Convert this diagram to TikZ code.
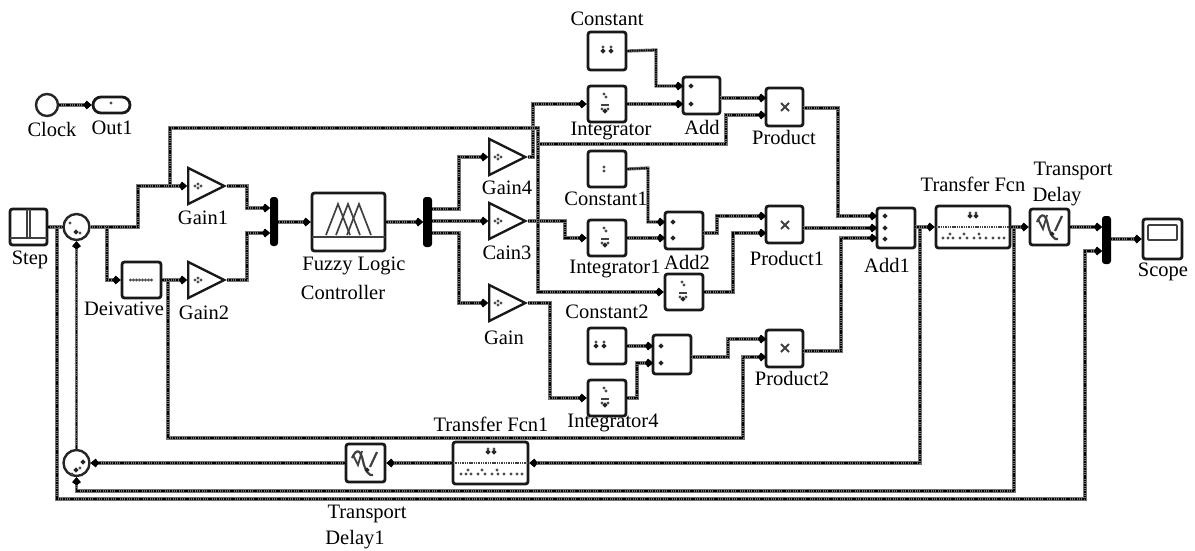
\documentclass[tikz,border=0pt]{standalone}
\usepackage{fontspec}
\setmainfont{Liberation Serif}
\usetikzlibrary{arrows.meta,fit,shapes.geometric}
\tikzset{
  wire/.style={draw=black,line width=1.7pt,dash pattern=on 1.4pt off 0.9pt,line join=miter,
    preaction={draw=black!55,line width=3.3pt,solid}},
  flow/.style={wire,-{Kite[length=8pt,width=8.5pt,inset=3pt,black]}},
  blk/.style={draw=black!90,line width=2.8pt,rounded corners=2.5pt,inner sep=0pt,fill=white},
  gainb/.style={draw=black!90,line width=2.4pt,isosceles triangle,isosceles triangle apex angle=52,
    isosceles triangle stretches,minimum width=36pt,minimum height=36pt,inner sep=0pt,anchor=west,fill=white},
  sumb/.style={draw=black!85,line width=2.4pt,circle,minimum size=26pt,inner sep=0pt,fill=white},
  muxb/.style={fill=black,rounded corners=3pt,inner sep=0pt},
  lbl/.style={font=\fontsize{20.5}{24}\selectfont,inner sep=0pt},
  ico/.style={draw=black!75,line width=1.3pt},
}
\newcommand\blk[5]{\node[blk,fit={(#2,#3) (#4,#5)}] (#1) {};}
\newcommand\dm[2]{\fill[black!85] (#1-2.6,#2)--(#1,#2-2.6)--(#1+2.6,#2)--(#1,#2+2.6)--cycle;}
\newcommand\sm[2]{\fill[black!70] (#1-1.6,#2)--(#1,#2-1.6)--(#1+1.6,#2)--(#1,#2+1.6)--cycle;}
\newcommand\intico[2]{\sm{#1-1}{#2-10}\sm{#1+1}{#2-7}\draw[ico] (#1-4,#2+1)--(#1+4,#2+1);\dm{#1}{#2+7}\sm{#1-3}{#2+5}\sm{#1+3}{#2+5}}
\newcommand\conico[2]{\dm{#1-4}{#2+1}\dm{#1+4}{#2+1}\sm{#1-4}{#2-3}\sm{#1+4}{#2-3}}
\newcommand\prodico[2]{\draw[ico,line width=1.8pt] (#1-4,#2-4)--(#1+4,#2+4) (#1-4,#2+4)--(#1+4,#2-4);}
\newcommand\tfico[4]{\draw[ico,line width=2.2pt,dash pattern=on 1.4pt off 0.9pt] (#1,#3)--(#2,#3);
  \dm{#4-3}{#3-11}\dm{#4+3}{#3-11}\sm{#4-3}{#3-14}\sm{#4+3}{#3-14}
  \foreach \k in {-30,-25,-20,-13,-6,1,7,13,20,26,31}{\sm{#4+\k}{#3+11}}
  \foreach \k in {-23,-9,6}{\sm{#4+\k}{#3+7}}}
\newcommand\delico[2]{\draw[ico,line width=2.2pt] (#1-13,#2-5) .. controls (#1-8,#2-16) and (#1-4,#2-12) .. (#1-2,#2-2) .. controls (#1,#2+8) and (#1+5,#2+14) .. (#1+8,#2+12);
  \draw[ico,line width=2.2pt] (#1+5,#2+4)--(#1+12,#2-11);\draw[ico,line width=1.8pt] (#1-12,#2-8)--(#1-7,#2+2)--(#1-3,#2-12);\dm{#1+2}{#2+7}}
\newcommand\port[3]{\coordinate (#1) at (#2,#3);}
\begin{document}
\begin{tikzpicture}[x=1pt,y=-1pt]
\useasboundingbox (0,0) rectangle (1195,550);
% ---- blocks
\node[sumb,minimum size=22pt] (clock) at (47,105) {};
\node[blk,rounded corners=8pt,fit={(93,97) (130,113)}] (out1) {};
\sm{111}{103}
\blk{step}{10}{209}{47}{245}
\draw[ico,line width=2pt] (27,209)--(27,238) (30,209)--(30,238) (10,238)--(47,238);
\node[sumb] (sum1) at (76.5,227) {};
\sm{70}{223}\dm{76}{232}\sm{80}{233}
\node[sumb] (sum2) at (76.5,463) {};
\dm{83}{462}\dm{76}{470}\sm{72}{474}\sm{80}{468}
\blk{deriv}{122}{262}{161}{298}
\foreach \k in {-11,-8,-5,-2,1,4,7,10}{\sm{141.5+\k}{280}}
\node[gainb] (g1) at (187,186) {};
\node[gainb] (g2) at (187,280) {};
\node[gainb] (g4) at (488,157) {};
\node[gainb] (g3) at (488,221) {};
\node[gainb] (g0) at (488,303) {};
\foreach \a/\b in {198/186,198/280,498/157,498/221,498/303}{\sm{\a-3}{\b}\sm{\a}{\b-2}\sm{\a}{\b+2}\sm{\a+3}{\b}}
\node[muxb,fit={(270,197) (278,246)}] (mx1) {};
\node[muxb,fit={(423,197) (432,247)}] (mx2) {};
\node[muxb,fit={(1102,216) (1111,264)}] (mx3) {};
\blk{flc}{312}{193}{385}{251}
\draw[ico] (312,237)--(385,237);
\foreach \p in {338,348,359}{\draw[ico,line width=1.7pt] (\p-12,235)--(\p,204)--(\p+12,235);}
\blk{con}{588}{32}{626}{70} \conico{607}{50}
\blk{int}{588}{86}{626}{122} \intico{605}{104}
\blk{add}{683}{77}{720}{114} \dm{691}{86}\dm{691}{104}
\blk{prd}{766}{88}{803}{126} \prodico{785}{107}
\blk{con1}{588}{151}{626}{187} \sm{604}{167}\sm{604}{171}
\blk{int1}{588}{220}{626}{256} \intico{605}{238}
\blk{add2}{665}{212}{703}{249} \dm{673}{222}\dm{673}{238}
\blk{prd1}{766}{206}{803}{243} \prodico{785}{225}
\blk{int3}{665}{274}{703}{310} \intico{683}{292}
\blk{con2}{588}{328}{626}{364} \conico{600}{345}
\blk{int4}{588}{380}{626}{416} \intico{605}{398}
\blk{add3}{653}{335}{691}{374} \dm{661}{346}\dm{661}{363}
\blk{prd2}{766}{330}{803}{367} \prodico{785}{348}
\blk{add1}{877}{208}{915}{248} \dm{885}{216}\dm{885}{228}\dm{885}{239}
\blk{tf}{936}{206}{1010}{248} \tfico{936}{1010}{227}{973}
\blk{tf1}{453}{442}{528}{484} \tfico{453}{528}{463}{491}
\blk{td}{1030}{209}{1069}{245} \delico{1050}{227}
\blk{td1}{346}{444}{385}{482} \delico{365}{463}
\blk{scope}{1143}{219}{1182}{259}
\draw[ico,line width=1.8pt,rounded corners=1pt] (1148,225) rectangle (1177,240);
% ---- named ports and branch points
\port{fbA}{57}{227}\port{j1}{107}{227}\port{j2}{170}{186}\port{j3}{168}{280}
\port{j5}{538}{144}\port{j6}{920}{227}\port{j7}{1014}{227}
\port{m1a}{270}{208}\port{m1b}{270}{233}\port{m1o}{278}{222}
\port{m2i}{423}{222}\port{m2a}{432}{209}\port{m2b}{432}{221}\port{m2c}{432}{233}
\port{m3a}{1102}{227}\port{m3b}{1102}{251}\port{m3o}{1111}{239}
\port{adda}{683}{86}\port{addb}{683}{104}\port{addo}{720}{98}
\port{prda}{766}{98}\port{prdb}{766}{115}\port{prdo}{803}{108}
\port{add2a}{665}{222}\port{add2b}{665}{238}\port{add2o}{703}{233}
\port{prd1a}{766}{216}\port{prd1b}{766}{233}\port{prd1o}{803}{228}
\port{add3a}{653}{346}\port{add3b}{653}{363}\port{add3o}{691}{357}
\port{prd2a}{766}{339}\port{prd2b}{766}{357}\port{prd2o}{803}{351}
\port{add1a}{877}{216}\port{add1b}{877}{228}\port{add1c}{877}{238}\port{add1o}{915}{227}
% ---- wires
\draw[flow] (clock.east) -- (out1.west);
\draw[wire] (step.east) -- (sum1.west);
\draw[flow] (fbA) -- (57,499) -- (1085,499) |- (m3b);
\draw[flow] (j7) -- (1014,491) -| (sum2.south);
\draw[flow] (sum2.north) -- (sum1.south);
\draw[flow] (j6) |- (tf1.east);
\draw[flow] (tf1.west) -- (td1.east);
\draw[flow] (td1.west) -- (sum2.east);
\draw[flow] (sum1.east) -- (138,227) |- (g1.west);
\draw[flow] (j1) |- (deriv.west);
\draw[flow] (deriv.east) -- (g2.west);
\draw[flow] (g1.apex) -- (247,186) |- (m1a);
\draw[flow] (g2.apex) -- (247,280) |- (m1b);
\draw[flow] (m1o) -- (flc.west |- m1o);
\draw[flow] (flc.east |- m2i) -- (m2i);
\draw[flow] (m2a) -- (459,209) |- (g4.west);
\draw[flow] (m2b) -- (g3.west);
\draw[flow] (m2c) -- (459,233) |- (g0.west);
\draw[flow] (g4.apex) -- (533,157) |- (int.west);
\draw[flow] (g3.apex) -- (565,221) |- (int1.west);
\draw[flow] (g0.apex) -- (550,303) |- (int4.west);
\draw[flow] (j2) -- (170,128) -- (538,128) |- (int3.west);
\draw[flow] (j5) -- (726,144) |- (prdb);
\draw[flow] (j3) -- (168,438) -- (743,438) |- (prd2b);
\draw[flow] (con.east) -- (656,50) |- (adda);
\draw[flow] (int.east) -- (addb);
\draw[flow] (addo) -- (prda);
\draw[flow] (con1.east) -- (648,168) |- (add2a);
\draw[flow] (int1.east) -- (add2b);
\draw[flow] (add2o) -- (717,233) |- (prd1a);
\draw[flow] (int3.east) -- (733,292) |- (prd1b);
\draw[flow] (con2.east) -- (add3a);
\draw[flow] (int4.east) -- (637,398) |- (add3b);
\draw[flow] (add3o) -- (728,357) |- (prd2a);
\draw[flow] (prdo) -- (838,108) |- (add1a);
\draw[flow] (prd1o) -- (add1b);
\draw[flow] (prd2o) -- (841,351) |- (add1c);
\draw[flow] (add1o) -- (tf.west);
\draw[flow] (tf.east) -- (td.west);
\draw[flow] (td.east) -- (m3a);
\draw[flow] (m3o) -- (scope.west);
% ---- labels
\node[lbl] (tClock) at (52,129) {Clock};
\node[lbl] (tOut) at (112,128) {Out1};
\node[lbl] (tStep) at (30,260) {Step};
\node[lbl] (tDer) at (124,309) {Deivative};
\node[lbl] (tG1) at (203,218) {Gain1};
\node[lbl] (tG2) at (204,313) {Gain2};
\node[lbl] (tF1) at (354,266) {Fuzzy Logic};
\node[lbl] (tF2) at (343,292) {Controller};
\node[lbl] (tG4) at (507,188) {Gain4};
\node[lbl] (tG3) at (507,253) {Cain3};
\node[lbl] (tG0) at (504,338) {Gain};
\node[lbl] (tC) at (607,19) {Constant};
\node[lbl] (tI) at (611,131) {Integrator};
\node[lbl] (tA) at (702,127) {Add};
\node[lbl] (tP) at (784,137) {Product};
\node[lbl] (tC1) at (606,199) {Constant1};
\node[lbl] (tI1) at (615,269) {Integrator1};
\node[lbl] (tA2) at (687,262) {Add2};
\node[lbl] (tP1) at (787,258) {Product1};
\node[lbl] (tC2) at (607,312) {Constant2};
\node[lbl] (tI4) at (613,423) {Integrator4};
\node[lbl] (tP2) at (792,378) {Product2};
\node[lbl] (tTF1) at (491,424) {Transfer Fcn1};
\node[lbl] (tTF) at (973,184) {Transfer Fcn};
\node[lbl] (tA1) at (887,265) {Add1};
\node[lbl] (tTD) at (1073,171) {Transport};
\node[lbl] (tTD2) at (1057,197) {Delay};
\node[lbl] (tS) at (1163,272) {Scope};
\node[lbl] (tTD3) at (367,514) {Transport};
\node[lbl] (tTD4) at (355,540) {Delay1};
\end{tikzpicture}
\end{document}
